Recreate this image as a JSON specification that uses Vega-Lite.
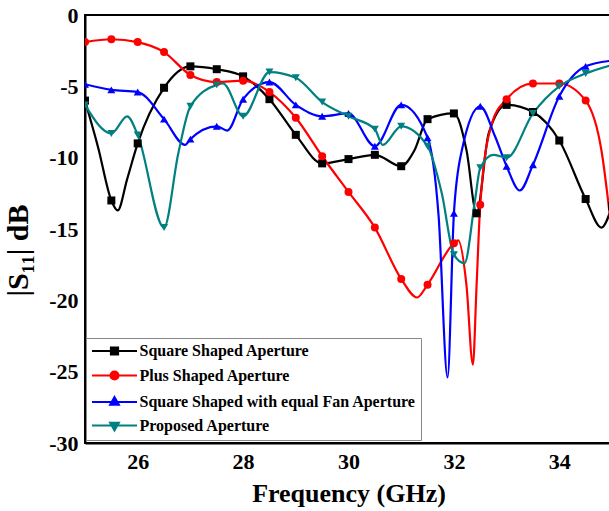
{
  "$schema": "https://vega.github.io/schema/vega-lite/v6.json",
  "width": 527,
  "height": 428,
  "autosize": "none",
  "padding": {"left": 85, "top": 15, "right": 0, "bottom": 68},
  "background": "white",
  "config": {
    "font": "Liberation Serif",
    "view": {"stroke": "black", "strokeWidth": 2},
    "axis": {
      "domainColor": "black", "domainWidth": 2, "ticks": false, "grid": false,
      "labelFont": "Liberation Serif", "labelFontWeight": "bold", "labelFontSize": 22, "labelColor": "black",
      "titleFont": "Liberation Serif", "titleFontWeight": "bold", "titleFontSize": 26, "titleColor": "black"
    }
  },
  "datasets": {
    "curves": [
      {"series": "Square Shaped Aperture", "freq": 25.0, "s11": -6.0},
      {"series": "Square Shaped Aperture", "freq": 25.25, "s11": -9.3},
      {"series": "Square Shaped Aperture", "freq": 25.5, "s11": -13.0},
      {"series": "Square Shaped Aperture", "freq": 25.62, "s11": -13.7},
      {"series": "Square Shaped Aperture", "freq": 25.8, "s11": -11.5},
      {"series": "Square Shaped Aperture", "freq": 26.0, "s11": -9.0},
      {"series": "Square Shaped Aperture", "freq": 26.5, "s11": -5.1},
      {"series": "Square Shaped Aperture", "freq": 27.0, "s11": -3.6},
      {"series": "Square Shaped Aperture", "freq": 27.5, "s11": -3.8},
      {"series": "Square Shaped Aperture", "freq": 28.0, "s11": -4.3},
      {"series": "Square Shaped Aperture", "freq": 28.5, "s11": -5.9},
      {"series": "Square Shaped Aperture", "freq": 29.0, "s11": -8.4},
      {"series": "Square Shaped Aperture", "freq": 29.5, "s11": -10.4},
      {"series": "Square Shaped Aperture", "freq": 30.0, "s11": -10.1},
      {"series": "Square Shaped Aperture", "freq": 30.5, "s11": -9.8},
      {"series": "Square Shaped Aperture", "freq": 31.0, "s11": -10.6},
      {"series": "Square Shaped Aperture", "freq": 31.25, "s11": -9.5},
      {"series": "Square Shaped Aperture", "freq": 31.5, "s11": -7.3},
      {"series": "Square Shaped Aperture", "freq": 32.0, "s11": -6.9},
      {"series": "Square Shaped Aperture", "freq": 32.24, "s11": -9.5},
      {"series": "Square Shaped Aperture", "freq": 32.43, "s11": -13.9},
      {"series": "Square Shaped Aperture", "freq": 32.66, "s11": -8.3},
      {"series": "Square Shaped Aperture", "freq": 33.0, "s11": -6.3},
      {"series": "Square Shaped Aperture", "freq": 33.5, "s11": -6.8},
      {"series": "Square Shaped Aperture", "freq": 34.0, "s11": -8.8},
      {"series": "Square Shaped Aperture", "freq": 34.5, "s11": -12.9},
      {"series": "Square Shaped Aperture", "freq": 34.8, "s11": -14.9},
      {"series": "Square Shaped Aperture", "freq": 35.0, "s11": -13.4},
      {"series": "Plus Shaped Aperture", "freq": 25.0, "s11": -1.9},
      {"series": "Plus Shaped Aperture", "freq": 25.5, "s11": -1.7},
      {"series": "Plus Shaped Aperture", "freq": 26.0, "s11": -1.9},
      {"series": "Plus Shaped Aperture", "freq": 26.5, "s11": -2.6},
      {"series": "Plus Shaped Aperture", "freq": 27.0, "s11": -4.2},
      {"series": "Plus Shaped Aperture", "freq": 27.5, "s11": -4.7},
      {"series": "Plus Shaped Aperture", "freq": 28.0, "s11": -4.6},
      {"series": "Plus Shaped Aperture", "freq": 28.5, "s11": -5.4},
      {"series": "Plus Shaped Aperture", "freq": 29.0, "s11": -7.2},
      {"series": "Plus Shaped Aperture", "freq": 29.5, "s11": -9.9},
      {"series": "Plus Shaped Aperture", "freq": 30.0, "s11": -12.4},
      {"series": "Plus Shaped Aperture", "freq": 30.5, "s11": -14.9},
      {"series": "Plus Shaped Aperture", "freq": 31.0, "s11": -18.5},
      {"series": "Plus Shaped Aperture", "freq": 31.3, "s11": -19.8},
      {"series": "Plus Shaped Aperture", "freq": 31.5, "s11": -18.9},
      {"series": "Plus Shaped Aperture", "freq": 32.0, "s11": -16.0},
      {"series": "Plus Shaped Aperture", "freq": 32.08, "s11": -15.8},
      {"series": "Plus Shaped Aperture", "freq": 32.24, "s11": -19.0},
      {"series": "Plus Shaped Aperture", "freq": 32.36, "s11": -24.5},
      {"series": "Plus Shaped Aperture", "freq": 32.43, "s11": -19.0},
      {"series": "Plus Shaped Aperture", "freq": 32.5, "s11": -13.3},
      {"series": "Plus Shaped Aperture", "freq": 32.72, "s11": -7.6},
      {"series": "Plus Shaped Aperture", "freq": 33.0, "s11": -5.9},
      {"series": "Plus Shaped Aperture", "freq": 33.5, "s11": -4.8},
      {"series": "Plus Shaped Aperture", "freq": 34.0, "s11": -4.8},
      {"series": "Plus Shaped Aperture", "freq": 34.5, "s11": -6.0},
      {"series": "Plus Shaped Aperture", "freq": 34.8, "s11": -9.5},
      {"series": "Plus Shaped Aperture", "freq": 35.0, "s11": -15.4},
      {"series": "Square Shaped with equal Fan Aperture", "freq": 25.0, "s11": -4.85},
      {"series": "Square Shaped with equal Fan Aperture", "freq": 25.5, "s11": -5.25},
      {"series": "Square Shaped with equal Fan Aperture", "freq": 26.0, "s11": -5.4},
      {"series": "Square Shaped with equal Fan Aperture", "freq": 26.5, "s11": -7.3},
      {"series": "Square Shaped with equal Fan Aperture", "freq": 26.9, "s11": -9.1},
      {"series": "Square Shaped with equal Fan Aperture", "freq": 27.0, "s11": -8.7},
      {"series": "Square Shaped with equal Fan Aperture", "freq": 27.5, "s11": -7.8},
      {"series": "Square Shaped with equal Fan Aperture", "freq": 27.7, "s11": -8.1},
      {"series": "Square Shaped with equal Fan Aperture", "freq": 28.0, "s11": -5.9},
      {"series": "Square Shaped with equal Fan Aperture", "freq": 28.5, "s11": -4.7},
      {"series": "Square Shaped with equal Fan Aperture", "freq": 29.0, "s11": -6.3},
      {"series": "Square Shaped with equal Fan Aperture", "freq": 29.5, "s11": -7.1},
      {"series": "Square Shaped with equal Fan Aperture", "freq": 30.0, "s11": -6.9},
      {"series": "Square Shaped with equal Fan Aperture", "freq": 30.5, "s11": -9.2},
      {"series": "Square Shaped with equal Fan Aperture", "freq": 31.0, "s11": -6.3},
      {"series": "Square Shaped with equal Fan Aperture", "freq": 31.5, "s11": -8.6},
      {"series": "Square Shaped with equal Fan Aperture", "freq": 31.71, "s11": -14.1},
      {"series": "Square Shaped with equal Fan Aperture", "freq": 31.88, "s11": -25.4},
      {"series": "Square Shaped with equal Fan Aperture", "freq": 32.0, "s11": -13.9},
      {"series": "Square Shaped with equal Fan Aperture", "freq": 32.15, "s11": -9.5},
      {"series": "Square Shaped with equal Fan Aperture", "freq": 32.5, "s11": -6.4},
      {"series": "Square Shaped with equal Fan Aperture", "freq": 32.78, "s11": -8.5},
      {"series": "Square Shaped with equal Fan Aperture", "freq": 33.0, "s11": -10.6},
      {"series": "Square Shaped with equal Fan Aperture", "freq": 33.25, "s11": -12.3},
      {"series": "Square Shaped with equal Fan Aperture", "freq": 33.5, "s11": -10.5},
      {"series": "Square Shaped with equal Fan Aperture", "freq": 34.0, "s11": -5.7},
      {"series": "Square Shaped with equal Fan Aperture", "freq": 34.5, "s11": -3.6},
      {"series": "Square Shaped with equal Fan Aperture", "freq": 35.0, "s11": -3.2},
      {"series": "Proposed Aperture", "freq": 25.0, "s11": -6.3},
      {"series": "Proposed Aperture", "freq": 25.5, "s11": -8.3},
      {"series": "Proposed Aperture", "freq": 25.8, "s11": -7.1},
      {"series": "Proposed Aperture", "freq": 26.0, "s11": -8.4},
      {"series": "Proposed Aperture", "freq": 26.5, "s11": -14.9},
      {"series": "Proposed Aperture", "freq": 26.77, "s11": -9.7},
      {"series": "Proposed Aperture", "freq": 27.0, "s11": -6.4},
      {"series": "Proposed Aperture", "freq": 27.5, "s11": -4.9},
      {"series": "Proposed Aperture", "freq": 27.62, "s11": -4.8},
      {"series": "Proposed Aperture", "freq": 28.0, "s11": -7.1},
      {"series": "Proposed Aperture", "freq": 28.5, "s11": -4.0},
      {"series": "Proposed Aperture", "freq": 29.0, "s11": -4.4},
      {"series": "Proposed Aperture", "freq": 29.5, "s11": -6.1},
      {"series": "Proposed Aperture", "freq": 30.0, "s11": -7.1},
      {"series": "Proposed Aperture", "freq": 30.5, "s11": -8.0},
      {"series": "Proposed Aperture", "freq": 30.65, "s11": -9.1},
      {"series": "Proposed Aperture", "freq": 31.0, "s11": -7.8},
      {"series": "Proposed Aperture", "freq": 31.5, "s11": -9.2},
      {"series": "Proposed Aperture", "freq": 31.77, "s11": -12.5},
      {"series": "Proposed Aperture", "freq": 32.0, "s11": -16.8},
      {"series": "Proposed Aperture", "freq": 32.2, "s11": -17.4},
      {"series": "Proposed Aperture", "freq": 32.4, "s11": -13.0},
      {"series": "Proposed Aperture", "freq": 32.5, "s11": -10.7},
      {"series": "Proposed Aperture", "freq": 32.75, "s11": -9.8},
      {"series": "Proposed Aperture", "freq": 33.0, "s11": -10.0},
      {"series": "Proposed Aperture", "freq": 33.5, "s11": -6.9},
      {"series": "Proposed Aperture", "freq": 34.0, "s11": -5.0},
      {"series": "Proposed Aperture", "freq": 34.5, "s11": -4.1},
      {"series": "Proposed Aperture", "freq": 35.0, "s11": -3.5}
    ],
    "markers": [
      {"series": "Square Shaped Aperture", "freq": 25.0, "s11": -6.0},
      {"series": "Square Shaped Aperture", "freq": 25.5, "s11": -13.0},
      {"series": "Square Shaped Aperture", "freq": 26.0, "s11": -9.0},
      {"series": "Square Shaped Aperture", "freq": 26.5, "s11": -5.1},
      {"series": "Square Shaped Aperture", "freq": 27.0, "s11": -3.6},
      {"series": "Square Shaped Aperture", "freq": 27.5, "s11": -3.8},
      {"series": "Square Shaped Aperture", "freq": 28.0, "s11": -4.3},
      {"series": "Square Shaped Aperture", "freq": 28.5, "s11": -5.9},
      {"series": "Square Shaped Aperture", "freq": 29.0, "s11": -8.4},
      {"series": "Square Shaped Aperture", "freq": 29.5, "s11": -10.4},
      {"series": "Square Shaped Aperture", "freq": 30.0, "s11": -10.1},
      {"series": "Square Shaped Aperture", "freq": 30.5, "s11": -9.8},
      {"series": "Square Shaped Aperture", "freq": 31.0, "s11": -10.6},
      {"series": "Square Shaped Aperture", "freq": 31.5, "s11": -7.3},
      {"series": "Square Shaped Aperture", "freq": 32.0, "s11": -6.9},
      {"series": "Square Shaped Aperture", "freq": 32.43, "s11": -13.9},
      {"series": "Square Shaped Aperture", "freq": 33.0, "s11": -6.3},
      {"series": "Square Shaped Aperture", "freq": 33.5, "s11": -6.8},
      {"series": "Square Shaped Aperture", "freq": 34.0, "s11": -8.8},
      {"series": "Square Shaped Aperture", "freq": 34.5, "s11": -12.9},
      {"series": "Square Shaped Aperture", "freq": 35.0, "s11": -13.4},
      {"series": "Plus Shaped Aperture", "freq": 25.0, "s11": -1.9},
      {"series": "Plus Shaped Aperture", "freq": 25.5, "s11": -1.7},
      {"series": "Plus Shaped Aperture", "freq": 26.0, "s11": -1.9},
      {"series": "Plus Shaped Aperture", "freq": 26.5, "s11": -2.6},
      {"series": "Plus Shaped Aperture", "freq": 27.0, "s11": -4.2},
      {"series": "Plus Shaped Aperture", "freq": 27.5, "s11": -4.7},
      {"series": "Plus Shaped Aperture", "freq": 28.0, "s11": -4.6},
      {"series": "Plus Shaped Aperture", "freq": 28.5, "s11": -5.4},
      {"series": "Plus Shaped Aperture", "freq": 29.0, "s11": -7.2},
      {"series": "Plus Shaped Aperture", "freq": 29.5, "s11": -9.9},
      {"series": "Plus Shaped Aperture", "freq": 30.0, "s11": -12.4},
      {"series": "Plus Shaped Aperture", "freq": 30.5, "s11": -14.9},
      {"series": "Plus Shaped Aperture", "freq": 31.0, "s11": -18.5},
      {"series": "Plus Shaped Aperture", "freq": 31.5, "s11": -18.9},
      {"series": "Plus Shaped Aperture", "freq": 32.0, "s11": -16.0},
      {"series": "Plus Shaped Aperture", "freq": 32.5, "s11": -13.3},
      {"series": "Plus Shaped Aperture", "freq": 33.0, "s11": -5.9},
      {"series": "Plus Shaped Aperture", "freq": 33.5, "s11": -4.8},
      {"series": "Plus Shaped Aperture", "freq": 34.0, "s11": -4.8},
      {"series": "Plus Shaped Aperture", "freq": 34.5, "s11": -6.0},
      {"series": "Square Shaped with equal Fan Aperture", "freq": 25.0, "s11": -4.85},
      {"series": "Square Shaped with equal Fan Aperture", "freq": 25.5, "s11": -5.25},
      {"series": "Square Shaped with equal Fan Aperture", "freq": 26.0, "s11": -5.4},
      {"series": "Square Shaped with equal Fan Aperture", "freq": 26.5, "s11": -7.3},
      {"series": "Square Shaped with equal Fan Aperture", "freq": 27.0, "s11": -8.7},
      {"series": "Square Shaped with equal Fan Aperture", "freq": 27.5, "s11": -7.8},
      {"series": "Square Shaped with equal Fan Aperture", "freq": 28.0, "s11": -5.9},
      {"series": "Square Shaped with equal Fan Aperture", "freq": 28.5, "s11": -4.7},
      {"series": "Square Shaped with equal Fan Aperture", "freq": 29.0, "s11": -6.3},
      {"series": "Square Shaped with equal Fan Aperture", "freq": 29.5, "s11": -7.1},
      {"series": "Square Shaped with equal Fan Aperture", "freq": 30.0, "s11": -6.9},
      {"series": "Square Shaped with equal Fan Aperture", "freq": 30.5, "s11": -9.2},
      {"series": "Square Shaped with equal Fan Aperture", "freq": 31.0, "s11": -6.3},
      {"series": "Square Shaped with equal Fan Aperture", "freq": 31.5, "s11": -8.6},
      {"series": "Square Shaped with equal Fan Aperture", "freq": 32.0, "s11": -13.9},
      {"series": "Square Shaped with equal Fan Aperture", "freq": 32.5, "s11": -6.4},
      {"series": "Square Shaped with equal Fan Aperture", "freq": 33.0, "s11": -10.6},
      {"series": "Square Shaped with equal Fan Aperture", "freq": 33.5, "s11": -10.5},
      {"series": "Square Shaped with equal Fan Aperture", "freq": 34.0, "s11": -5.7},
      {"series": "Square Shaped with equal Fan Aperture", "freq": 34.5, "s11": -3.6},
      {"series": "Proposed Aperture", "freq": 25.0, "s11": -6.3},
      {"series": "Proposed Aperture", "freq": 25.5, "s11": -8.3},
      {"series": "Proposed Aperture", "freq": 26.0, "s11": -8.4},
      {"series": "Proposed Aperture", "freq": 26.5, "s11": -14.9},
      {"series": "Proposed Aperture", "freq": 27.0, "s11": -6.4},
      {"series": "Proposed Aperture", "freq": 27.5, "s11": -4.9},
      {"series": "Proposed Aperture", "freq": 28.0, "s11": -7.1},
      {"series": "Proposed Aperture", "freq": 28.5, "s11": -4.0},
      {"series": "Proposed Aperture", "freq": 29.0, "s11": -4.4},
      {"series": "Proposed Aperture", "freq": 29.5, "s11": -6.1},
      {"series": "Proposed Aperture", "freq": 30.0, "s11": -7.1},
      {"series": "Proposed Aperture", "freq": 30.5, "s11": -8.0},
      {"series": "Proposed Aperture", "freq": 31.0, "s11": -7.8},
      {"series": "Proposed Aperture", "freq": 31.5, "s11": -9.2},
      {"series": "Proposed Aperture", "freq": 32.0, "s11": -16.8},
      {"series": "Proposed Aperture", "freq": 32.5, "s11": -10.7},
      {"series": "Proposed Aperture", "freq": 33.0, "s11": -10.0},
      {"series": "Proposed Aperture", "freq": 33.5, "s11": -6.9},
      {"series": "Proposed Aperture", "freq": 34.0, "s11": -5.0},
      {"series": "Proposed Aperture", "freq": 34.5, "s11": -4.1}
    ],
    "legendItems": []
  },
  "encoding": {
    "x": {
      "field": "freq", "type": "quantitative",
      "scale": {"domain": [25, 35], "nice": false, "zero": false},
      "axis": {"values": [26, 28, 30, 32, 34], "title": "Frequency (GHz)", "labelPadding": 8, "titlePadding": 8}
    },
    "y": {
      "field": "s11", "type": "quantitative",
      "scale": {"domain": [-30, 0], "nice": false, "zero": false},
      "axis": {"values": [-30, -25, -20, -15, -10, -5, 0], "labelExpr": "toString(datum.value)", "title": "|S₁₁| dB", "titleFontSize": 30, "titleX": -52, "titleY": 235, "labelPadding": 7}
    }
  },
  "layer": [
    {
      "data": {"name": "curves"},
      "mark": {"type": "line", "interpolate": "monotone", "strokeWidth": 2.2, "clip": true},
      "encoding": {
        "color": {
          "field": "series", "type": "nominal",
          "scale": {"domain": ["Square Shaped Aperture", "Plus Shaped Aperture", "Square Shaped with equal Fan Aperture", "Proposed Aperture"], "range": ["#000000", "#ff0000", "#0000ff", "#008080"]},
          "legend": null
        }
      }
    },
    {
      "data": {"name": "markers"},
      "mark": {"type": "point", "filled": true, "opacity": 1, "size": 64, "clip": true},
      "encoding": {
        "color": {
          "field": "series", "type": "nominal",
          "scale": {"domain": ["Square Shaped Aperture", "Plus Shaped Aperture", "Square Shaped with equal Fan Aperture", "Proposed Aperture"], "range": ["#000000", "#ff0000", "#0000ff", "#008080"]},
          "legend": null
        },
        "shape": {
          "field": "series", "type": "nominal",
          "scale": {"domain": ["Square Shaped Aperture", "Plus Shaped Aperture", "Square Shaped with equal Fan Aperture", "Proposed Aperture"], "range": ["square", "circle", "triangle-up", "triangle-down"]},
          "legend": null
        }
      }
    },
    {
      "data": {"name": "legendItems"},
      "mark": {"type": "point", "filled": false, "opacity": 1, "size": 100, "strokeWidth": 2.2},
      "encoding": {
        "color": {
          "field": "series", "type": "nominal",
          "scale": {"domain": ["Square Shaped Aperture", "Plus Shaped Aperture", "Square Shaped with equal Fan Aperture", "Proposed Aperture"], "range": ["#000000", "#ff0000", "#0000ff", "#008080"]},
          "legend": {"title": null}
        },
        "fill": {
          "field": "series", "type": "nominal",
          "scale": {"domain": ["Square Shaped Aperture", "Plus Shaped Aperture", "Square Shaped with equal Fan Aperture", "Proposed Aperture"], "range": ["#000000", "#ff0000", "#0000ff", "#008080"]},
          "legend": {"title": null}
        },
        "shape": {
          "field": "series", "type": "nominal",
          "scale": {"domain": ["Square Shaped Aperture", "Plus Shaped Aperture", "Square Shaped with equal Fan Aperture", "Proposed Aperture"], "range": ["M-4.5,0H4.5M-0.7,-0.7H0.7V0.7H-0.7Z", "M-4.5,0H4.5M-0.8,0A0.8,0.8 0 1,0 0.8,0A0.8,0.8 0 1,0 -0.8,0Z", "M-4.5,0H4.5M0,-0.95L0.85,0.55H-0.85Z", "M-4.5,0H4.5M0,0.95L0.85,-0.55H-0.85Z"]},
          "legend": {
            "title": null, "orient": "none", "legendX": 1, "legendY": 323,
            "strokeColor": "#888888", "fillColor": "white", "padding": 5,
            "symbolSize": 100, "symbolOffset": 15.5, "symbolOpacity": 1, "symbolStrokeWidth": 2.2,
            "labelFont": "Liberation Serif", "labelFontWeight": "bold", "labelFontSize": 16, "labelColor": "black",
            "labelOffset": 17, "rowPadding": 7.5, "labelLimit": 400
          }
        }
      }
    }
  ],
  "resolve": {"scale": {"shape": "independent", "color": "independent", "fill": "independent"}}
}
